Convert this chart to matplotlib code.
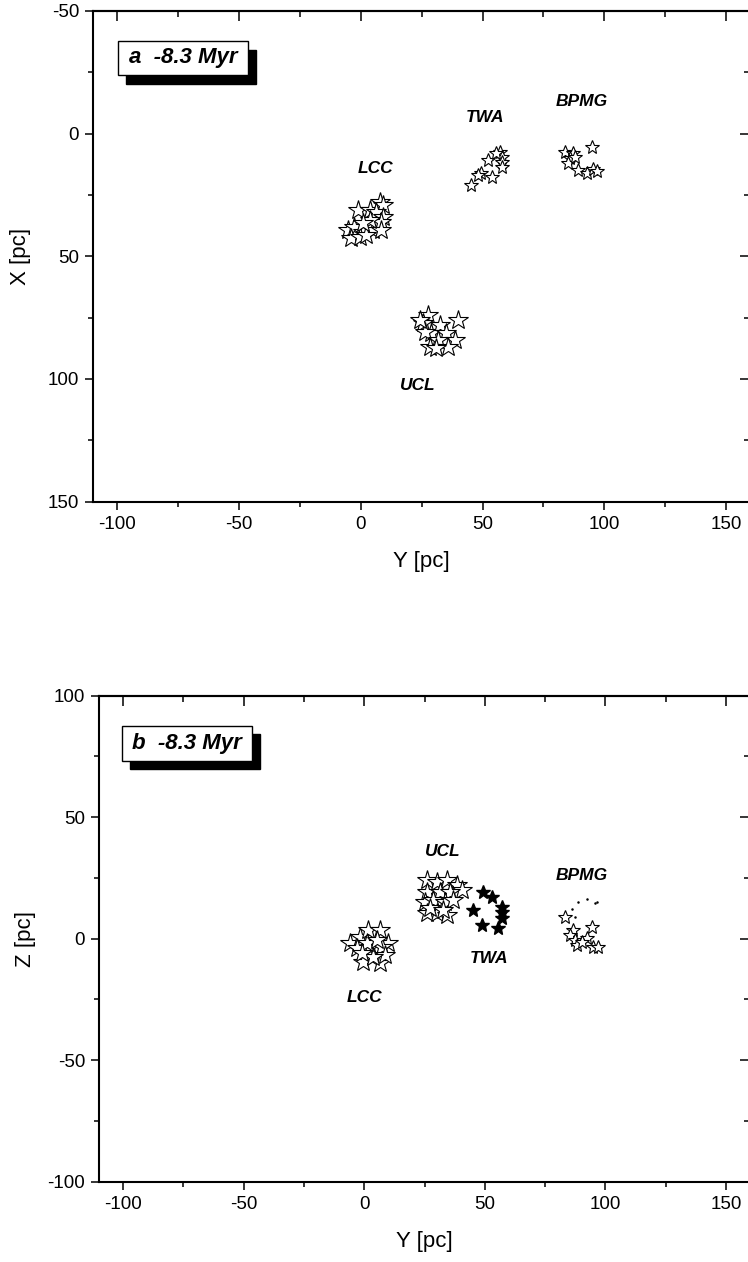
import numpy as np
import matplotlib
matplotlib.use("Agg")
import matplotlib.pyplot as plt
from matplotlib.ticker import MultipleLocator
from matplotlib.patches import Rectangle

plt.rcParams['font.family'] = ['Liberation Sans', 'DejaVu Sans']
plt.rcParams['axes.unicode_minus'] = False

# ---- panel a: Y vs X [pc] ----
lcc_y_a = [-1.2, 3.6, 7.7, 9.1, 6.3, 9.1, 8.4, -5.3, -2.6, 0.8, 4.9, 8.4, -4.0, -0.5, 2.2, 3.6, 0.8]
lcc_x_a = [31.1, 31.1, 27.7, 29.1, 31.8, 33.8, 35.9, 39.2, 37.9, 39.9, 39.2, 39.2, 42.6, 42.0, 41.3, 35.2, 36.5]

ucl_y_a = [27.6, 39.9, 25.5, 32.4, 29.0, 35.1, 26.2, 38.6, 31.7, 28.3, 35.8, 31.0, 24.2]
ucl_x_a = [73.9, 75.9, 77.3, 78.0, 81.3, 81.3, 80.7, 84.1, 84.1, 86.8, 86.8, 87.4, 75.9]

twa_y_a = [57.1, 57.8, 57.8, 52.3, 57.8, 49.5, 48.1, 53.7, 45.4, 55.7]
twa_x_a = [7.3, 9.4, 11.4, 10.7, 13.7, 16.1, 16.8, 17.8, 20.9, 8.0]

bpmg_y_a = [83.8, 87.2, 85.9, 85.2, 89.3, 92.7, 95.5, 96.9, 94.8, 87.9]
bpmg_x_a = [7.3, 8.0, 10.0, 12.1, 14.8, 16.1, 14.5, 15.1, 5.3, 9.4]

# ---- panel b: Y vs Z [pc] ----
lcc_y_b = [-5.9, -1.8, 1.7, 6.5, 10.0, -3.2, 2.4, 7.2, -0.4, 6.5, 8.6, 3.7, 1.0, 5.1, -1.1]
lcc_z_b = [-1.9, 0.8, 3.6, 3.6, -1.9, -4.0, -3.3, -3.3, -9.5, -10.1, -6.7, -7.4, -1.9, -0.5, -6.0]

ucl_y_b = [25.9, 30.0, 34.2, 38.3, 40.4, 25.9, 31.4, 35.6, 25.2, 28.6, 33.5, 36.9, 25.9, 30.0, 34.2, 27.3, 32.8]
ucl_z_b = [24.2, 23.5, 24.2, 22.1, 20.0, 19.3, 19.3, 19.3, 15.2, 15.9, 15.2, 15.9, 10.4, 10.4, 9.8, 12.5, 11.8]

twa_y_b = [49.4, 52.9, 57.0, 57.0, 57.0, 45.2, 48.7, 55.6]
twa_z_b = [19.3, 17.3, 13.2, 11.1, 8.4, 11.8, 5.6, 4.3]

bpmg_y_b = [83.3, 86.7, 85.3, 94.4, 87.4, 92.3, 95.0, 97.1, 88.1, 90.2]
bpmg_z_b = [9.1, 3.6, 1.5, 4.9, -0.5, 0.2, -3.3, -3.3, -2.6, -1.2]

# tiny specks above BPMG in panel b
dots_y_b = [88.8, 92.3, 95.7, 87.4, 86.1, 96.4]
dots_z_b = [15.2, 16.2, 14.6, 9.1, 12.1, 15.2]

# group labels: (text, y, other coord)
labels_a = [("LCC", 6.0, 14.4), ("TWA", 50.9, -6.4), ("BPMG", 90.7, -12.9), ("UCL", 23.3, 102.8)]
labels_b = [("UCL", 32.7, 36.1), ("TWA", 51.7, -8.0), ("BPMG", 90.3, 26.2), ("LCC", 0.2, -24.0)]

fig = plt.figure(figsize=(7.48, 12.62), dpi=100)
ax1 = fig.add_axes([0.1243, 0.6025, 0.8789, 0.3888])
ax2 = fig.add_axes([0.1324, 0.0636, 0.8703, 0.3851])


def style_axes(ax):
    for s in ax.spines.values():
        s.set_linewidth(1.5)
    ax.xaxis.set_major_locator(MultipleLocator(50))
    ax.xaxis.set_minor_locator(MultipleLocator(25))
    ax.yaxis.set_major_locator(MultipleLocator(50))
    ax.yaxis.set_minor_locator(MultipleLocator(25))
    ax.tick_params(which='both', direction='out', top=False, right=False, width=1.1, labelsize=13.5, pad=4)
    ax.tick_params(which='major', length=6)
    ax.tick_params(which='minor', length=3.5)
    # inward ticks on top and right
    sx = ax.secondary_xaxis('top')
    sx.xaxis.set_major_locator(MultipleLocator(50))
    sx.xaxis.set_minor_locator(MultipleLocator(25))
    sx.tick_params(which='both', direction='in', width=1.1, labeltop=False)
    sx.tick_params(which='major', length=7)
    sx.tick_params(which='minor', length=4)
    sx.spines['top'].set_linewidth(1.5)
    sy = ax.secondary_yaxis('right')
    sy.yaxis.set_major_locator(MultipleLocator(50))
    sy.yaxis.set_minor_locator(MultipleLocator(25))
    sy.tick_params(which='both', direction='in', width=1.1, labelright=False)
    sy.tick_params(which='major', length=7)
    sy.tick_params(which='minor', length=4)


def label_box(ax, txt, x0, x1, y0, y1, dx, dy):
    ax.add_patch(Rectangle((x0 + dx, y0 - dy), x1 - x0, y1 - y0, transform=ax.transAxes,
                           facecolor='black', edgecolor='black', zorder=5))
    ax.add_patch(Rectangle((x0, y0), x1 - x0, y1 - y0, transform=ax.transAxes,
                           facecolor='white', edgecolor='black', linewidth=1, zorder=6))
    ax.text((x0 + x1) / 2, (y0 + y1) / 2, txt, transform=ax.transAxes, ha='center', va='center',
            fontsize=16, fontweight='bold', style='italic', zorder=7)


star_big = dict(marker='*', linestyle='none', markersize=15, markerfacecolor='white',
                markeredgecolor='black', markeredgewidth=0.8)
star_small = dict(marker='*', linestyle='none', markersize=10, markerfacecolor='white',
                  markeredgecolor='black', markeredgewidth=0.8)

# panel a
ax1.plot(lcc_y_a, lcc_x_a, **star_big)
ax1.plot(ucl_y_a, ucl_x_a, **star_big)
ax1.plot(twa_y_a, twa_x_a, **star_small)
ax1.plot(bpmg_y_a, bpmg_x_a, **star_small)
for t, yy, xx in labels_a:
    ax1.text(yy, xx, t, ha='center', va='center', fontsize=12.5, fontweight='bold', style='italic')
ax1.set_xlim(-110, 160)
ax1.set_ylim(150, -50)
ax1.set_xlabel('Y [pc]', fontsize=16, labelpad=13)
ax1.set_ylabel('X [pc]', fontsize=16, labelpad=12)
style_axes(ax1)
label_box(ax1, 'a  -8.3 Myr', 0.0385, 0.236, 0.870, 0.939, 0.0122, 0.0183)

# panel b
ax2.plot(lcc_y_b, lcc_z_b, **star_big)
ax2.plot(ucl_y_b, ucl_z_b, **star_big)
ax2.plot(twa_y_b, twa_z_b, marker='*', linestyle='none', markersize=10, color='black')
ax2.plot(bpmg_y_b, bpmg_z_b, **star_small)
ax2.plot(dots_y_b, dots_z_b, 'o', markersize=0.8, color='black')
for t, yy, zz in labels_b:
    ax2.text(yy, zz, t, ha='center', va='center', fontsize=12.5, fontweight='bold', style='italic')
ax2.set_xlim(-110, 160)
ax2.set_ylim(-100, 100)
ax2.set_xlabel('Y [pc]', fontsize=16, labelpad=13)
ax2.set_ylabel('Z [pc]', fontsize=16, labelpad=8)
style_axes(ax2)
label_box(ax2, 'b  -8.3 Myr', 0.035, 0.2355, 0.866, 0.938, 0.0123, 0.0175)

plt.savefig('out.png', dpi=100)
